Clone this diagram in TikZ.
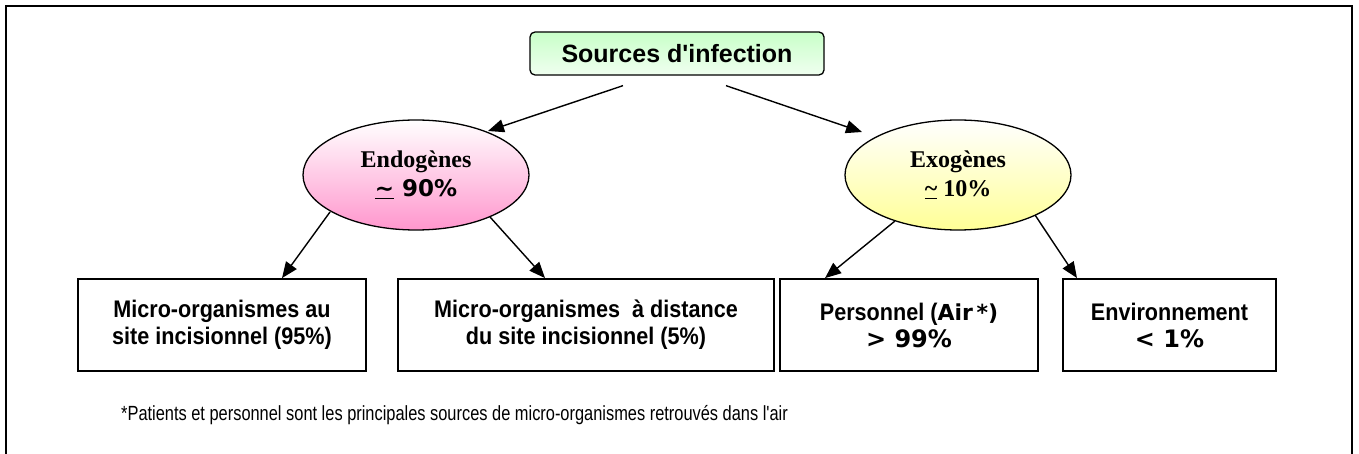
\documentclass[tikz,border=0pt]{standalone}
\usepackage{fontspec}
\setmainfont{Liberation Serif}
\newfontfamily\arialf{Liberation Sans}
\newfontfamily\arialc[FakeStretch=0.9]{Liberation Sans}
\newfontfamily\narrowf[FakeStretch=0.8]{Liberation Sans}
\newfontfamily\verdf{DejaVu Sans}
\usetikzlibrary{arrows.meta,shapes.geometric}
\definecolor{gtop}{RGB}{200,255,200}
\definecolor{gbot}{RGB}{240,255,240}
\definecolor{pinkb}{RGB}{255,150,205}
\definecolor{yellb}{RGB}{255,255,150}
\tikzset{
  topbox/.style={draw, rounded corners=5pt, line width=1.3pt, minimum width=294pt, minimum height=43pt,
    inner sep=0pt, top color=gtop, bottom color=gbot, font=\arialf\bfseries\fontsize{25}{30}\selectfont},
  ell/.style={draw, ellipse, line width=1.3pt, minimum width=226pt, minimum height=110pt, inner sep=0pt,
    align=center, font=\fontsize{24}{29}\selectfont},
  endoell/.style={ell, top color=white, bottom color=pinkb},
  exoell/.style={ell, top color=white, bottom color=yellb},
  box/.style={draw, line width=1.8pt, minimum height=92pt, inner sep=0pt, align=center,
    font=\arialc\bfseries\fontsize{24}{27}\selectfont},
  arr/.style={-{Triangle[length=16pt,width=13pt]}, line width=1.4pt},
  frame/.style={line width=2.4pt}
}
\begin{document}
\begin{tikzpicture}[x=1pt,y=-1pt]
\useasboundingbox (0,0) rectangle (1359,454);
\draw[frame] (6,454) -- (6,6) -- (1352,6) -- (1352,454);

\node[topbox] (src) at (677,53.5) {Sources d'infection};

\node[endoell] (endo) at (416,175) {{\bfseries Endogènes}\\{\verdf\bfseries\fontsize{23}{29}\selectfont\underline{\char`\~} 90\%}};
\node[exoell] (exo) at (958,175) {{\bfseries Exogènes}\\{\bfseries\underline{\char`\~} 10\%}};

\node[box, minimum width=288pt] (b1) at (222,325) {Micro-organismes au\\site incisionnel (95\%)};
\node[box, minimum width=376pt] (b2) at (586,325) {Micro-organismes \ à distance\\du site incisionnel (5\%)};
\node[box, minimum width=258pt] (b3) at (909,325) {Personnel ({\verdf\bfseries\fontsize{22}{27}\selectfont Air\,*)}\\{\verdf\bfseries\fontsize{24}{27}\selectfont > 99\%}};
\node[box, minimum width=213pt] (b4) at (1169.5,325) {Environnement\\{\verdf\bfseries\fontsize{24}{27}\selectfont < 1\%}};

\draw[arr] ([xshift=-54pt,yshift=-10pt]src.south) -- ([xshift=72pt,yshift=44pt]endo.center);
\draw[arr] ([xshift=49pt,yshift=-10pt]src.south) -- ([xshift=-96pt,yshift=43pt]exo.center);
\draw[arr] ([xshift=-86pt,yshift=-37pt]endo.center) -- ([xshift=60pt]b1.north);
\draw[arr] ([xshift=74pt,yshift=-42pt]endo.center) -- ([xshift=-41pt]b2.north);
\draw[arr] ([xshift=-63pt,yshift=-46pt]exo.center) -- ([xshift=-84pt]b3.north);
\draw[arr] ([xshift=77pt,yshift=-40pt]exo.center) -- ([xshift=-92.5pt]b4.north);

\node[anchor=base west, inner sep=0pt, font=\narrowf\fontsize{20.5}{24}\selectfont] (note) at (121,420)
  {*Patients et personnel sont les principales sources de micro-organismes retrouvés dans l'air};
\end{tikzpicture}
\end{document}
